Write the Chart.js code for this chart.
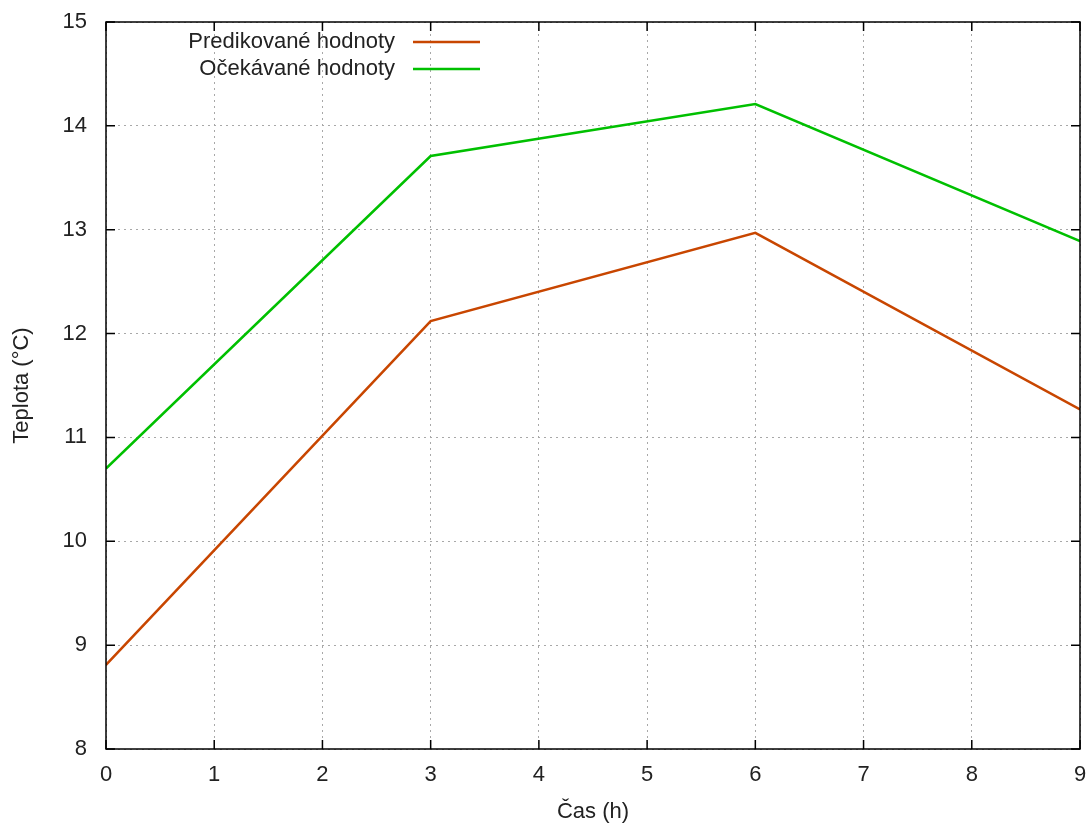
<!DOCTYPE html>
<html>
<head>
<meta charset="utf-8">
<script src="https://cdn.jsdelivr.net/npm/chart.js@4.4.0/dist/chart.umd.min.js"></script>
<style>
html,body{margin:0;padding:0;background:#fff;}
#wrap{width:1092px;height:826px;}
</style>
</head>
<body>
<div id="wrap"><canvas id="c" width="1092" height="826"></canvas></div>
<script>
const hours = [0, 3, 6, 9];
const predicted = [8.81, 12.12, 12.97, 11.27];
const expected = [10.70, 13.71, 14.21, 12.89];
const seriesLabels = ['Predikované hodnoty', 'Očekávané hodnoty'];
const seriesColors = ['#c84600', '#00c000'];
const xTicks = [0,1,2,3,4,5,6,7,8,9];
const yTicks = [8,9,10,11,12,13,14,15];

const FONT = 'Liberation Sans, Arial, sans-serif';
const FS = 22;

const frame = {
  id: 'frame',
  afterDraw(chart) {
    const {ctx, chartArea: a, scales: {x, y}} = chart;
    ctx.save();
    ctx.strokeStyle = '#000';
    ctx.lineWidth = 1.5;
    ctx.strokeRect(a.left, a.top, a.right - a.left, a.bottom - a.top);
    ctx.beginPath();
    const t = 9;
    xTicks.forEach(v => {
      const px = x.getPixelForValue(v);
      ctx.moveTo(px, a.bottom); ctx.lineTo(px, a.bottom - t);
      ctx.moveTo(px, a.top); ctx.lineTo(px, a.top + t);
    });
    yTicks.forEach(v => {
      const py = y.getPixelForValue(v);
      ctx.moveTo(a.left, py); ctx.lineTo(a.left + t, py);
      ctx.moveTo(a.right, py); ctx.lineTo(a.right - t, py);
    });
    ctx.stroke();
    // legend
    ctx.font = FS + 'px ' + FONT;
    ctx.textAlign = 'right';
    ctx.textBaseline = 'middle';
    const rows = [42, 69];
    chart.data.datasets.forEach((ds, i) => {
      ctx.fillStyle = '#222';
      ctx.fillText(ds.label, 395, rows[i]);
      ctx.strokeStyle = ds.borderColor;
      ctx.lineWidth = 2.5;
      ctx.beginPath();
      ctx.moveTo(413, rows[i]); ctx.lineTo(480, rows[i]);
      ctx.stroke();
    });
    ctx.restore();
  }
};

function noPad(s) { s.paddingTop = 0; s.paddingBottom = 0; s.paddingLeft = 0; s.paddingRight = 0; }

new Chart(document.getElementById('c'), {
  type: 'line',
  data: {
    datasets: [
      {label: seriesLabels[0], data: hours.map((h, i) => ({x: h, y: predicted[i]})), borderColor: seriesColors[0], borderWidth: 2.5, pointRadius: 0, tension: 0, fill: false},
      {label: seriesLabels[1], data: hours.map((h, i) => ({x: h, y: expected[i]})), borderColor: seriesColors[1], borderWidth: 2.5, pointRadius: 0, tension: 0, fill: false}
    ]
  },
  options: {
    responsive: false,
    animation: false,
    devicePixelRatio: 1,
    layout: {padding: {top: 22, right: 12, left: 0, bottom: 0}},
    plugins: {legend: {display: false}, tooltip: {enabled: false}},
    scales: {
      x: {
        type: 'linear', min: 0, max: 9,
        afterBuildTicks: s => { s.ticks = xTicks.map(v => ({value: v})); },
        afterFit: s => { s.height = 77; noPad(s); },
        grid: {color: '#a8a8a8', lineWidth: 1, drawTicks: false},
        border: {display: false, dash: [2, 4]},
        ticks: {padding: 13, color: '#222', font: {family: FONT, size: FS}, maxRotation: 0},
        title: {display: true, text: 'Čas (h)', color: '#222', font: {family: FONT, size: FS}, padding: {top: 0, bottom: 1}}
      },
      y: {
        type: 'linear', min: 8, max: 15,
        afterBuildTicks: s => { s.ticks = yTicks.map(v => ({value: v})); },
        afterFit: s => { s.width = 106; noPad(s); },
        grid: {color: '#a8a8a8', lineWidth: 1, drawTicks: false},
        border: {display: false, dash: [2, 4]},
        ticks: {padding: 19, color: '#222', font: {family: FONT, size: FS}},
        title: {display: true, text: 'Teplota (°C)', color: '#222', font: {family: FONT, size: FS}, padding: {top: 9, bottom: 0}}
      }
    }
  },
  plugins: [frame]
});
</script>
</body>
</html>
